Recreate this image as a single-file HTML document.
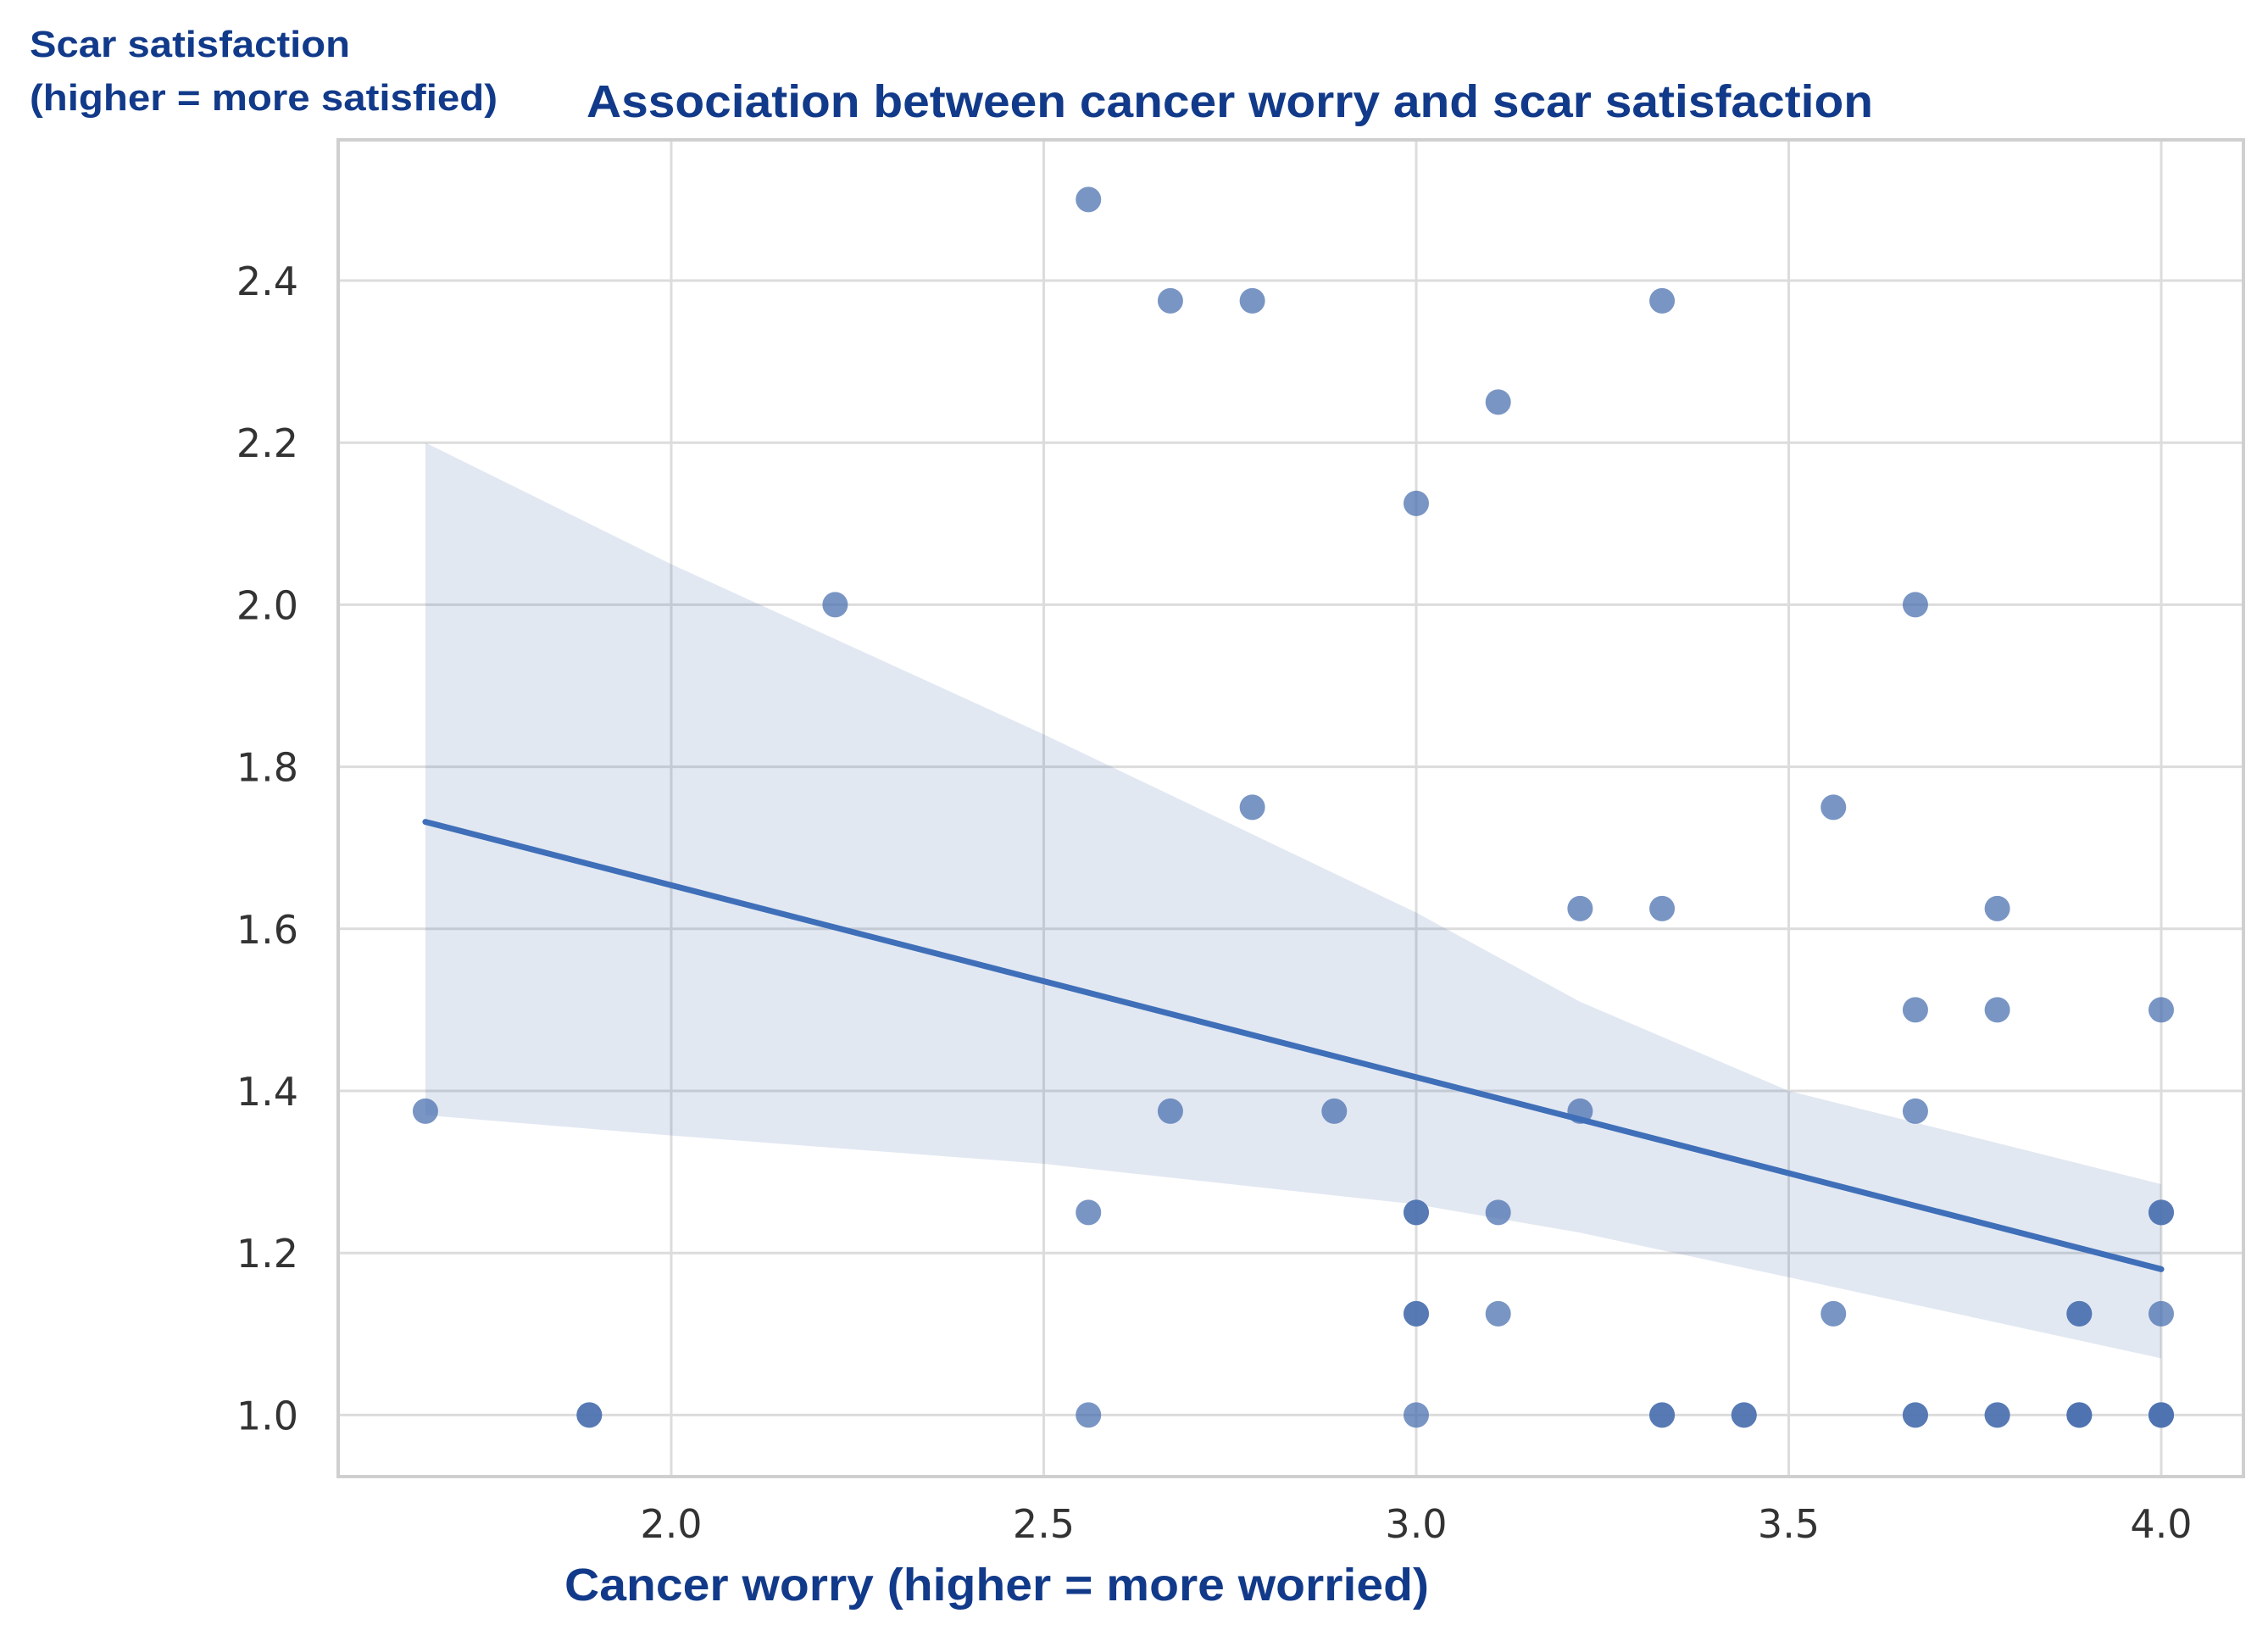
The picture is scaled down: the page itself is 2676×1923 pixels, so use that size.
<!DOCTYPE html>
<html><head><meta charset="utf-8"><style>
html,body{margin:0;padding:0;background:#fff;}
svg{display:block;}
</style></head><body>
<svg id="chart" width="2676" height="1923" viewBox="0 0 2676 1923" xmlns="http://www.w3.org/2000/svg">
<rect x="0" y="0" width="2676" height="1923" fill="#fff"/>
<g id="grid"></g>
<g id="band"></g>
<g id="pts"></g>
<g id="reg"></g>
<rect x="399" y="165" width="2248" height="1577" fill="none" stroke="#cfcfcf" stroke-width="4"/>
<g id="ticks"></g>
<text x="35" y="67" font-family="Liberation Sans, sans-serif" font-weight="bold" font-size="44" fill="#123a8a" textLength="378" lengthAdjust="spacingAndGlyphs">Scar satisfaction</text>
<text x="35" y="130" font-family="Liberation Sans, sans-serif" font-weight="bold" font-size="44" fill="#123a8a" textLength="552" lengthAdjust="spacingAndGlyphs">(higher = more satisfied)</text>
<text x="692" y="138" font-family="Liberation Sans, sans-serif" font-weight="bold" font-size="54" fill="#123a8a" textLength="1518" lengthAdjust="spacingAndGlyphs">Association between cancer worry and scar satisfaction</text>
<text x="666" y="1888" font-family="Liberation Sans, sans-serif" font-weight="bold" font-size="54" fill="#123a8a" textLength="1020" lengthAdjust="spacingAndGlyphs">Cancer worry (higher = more worried)</text>
</svg>
<script>
const xTicks = [2.0, 2.5, 3.0, 3.5, 4.0];
const yTicks = [1.0, 1.2, 1.4, 1.6, 1.8, 2.0, 2.2, 2.4];
const worry = [1.67,1.89,1.89,2.22,2.56,2.56,2.56,2.67,2.67,2.78,2.78,2.89,3.0,3.0,3.0,3.0,3.0,3.0,3.11,3.11,3.11,3.22,3.22,3.33,3.33,3.33,3.33,3.44,3.44,3.56,3.56,3.67,3.67,3.67,3.67,3.67,3.78,3.78,3.78,3.78,3.89,3.89,3.89,3.89,3.89,4.0,4.0,4.0,4.0,4.0,4.0,4.0];
const satisfaction = [1.375,1.0,1.0,2.0,2.5,1.25,1.0,2.375,1.375,2.375,1.75,1.375,2.125,1.25,1.25,1.125,1.125,1.0,2.25,1.25,1.125,1.625,1.375,2.375,1.625,1.0,1.0,1.0,1.0,1.75,1.125,2.0,1.5,1.375,1.0,1.0,1.625,1.5,1.0,1.0,1.125,1.125,1.0,1.0,1.0,1.5,1.25,1.25,1.125,1.0,1.0,1.0];
const bandX = [1.67, 2.0, 2.5, 3.0, 3.22, 3.5, 4.0];
const bandUpper = [2.20, 2.05, 1.84, 1.62, 1.51, 1.40, 1.285];
const bandLower = [1.37, 1.345, 1.31, 1.26, 1.225, 1.17, 1.07];
const regX = [1.67, 4.0];
const regY = [1.732, 1.18];

const NS = 'http://www.w3.org/2000/svg';
function sx(v){ return 792 + (v - 2.0) * 879; }
function sy(v){ return 331 + (2.4 - v) * 956; }
function mk(tag, attrs, parent){ const e = document.createElementNS(NS, tag); for (const k in attrs) e.setAttribute(k, attrs[k]); parent.appendChild(e); return e; }

const grid = document.getElementById('grid');
const ticks = document.getElementById('ticks');
xTicks.forEach(t => {
  const l = mk('line', {x1: sx(t), x2: sx(t), y1: 165, y2: 1742, stroke: '#dcdcdc', 'stroke-width': 3}, grid);
  
  
  const tx = mk('text', {x: sx(t), y: 1814, 'text-anchor': 'middle', 'font-family': 'DejaVu Sans, sans-serif', 'font-size': 46, fill: '#333'}, ticks);
  tx.textContent = t.toFixed(1);
  
  
});
yTicks.forEach(t => {
  const l = mk('line', {x1: 399, x2: 2647, y1: sy(t), y2: sy(t), stroke: '#dcdcdc', 'stroke-width': 3}, grid);
  
  
  const tx = mk('text', {x: 352, y: sy(t) + 17, 'text-anchor': 'end', 'font-family': 'DejaVu Sans, sans-serif', 'font-size': 46, fill: '#333'}, ticks);
  tx.textContent = t.toFixed(1);
  
  
});

let d = '';
bandX.forEach((x, i) => { d += (i ? 'L' : 'M') + sx(x) + ' ' + sy(bandUpper[i]) + ' '; });
for (let i = bandX.length - 1; i >= 0; i--) d += 'L' + sx(bandX[i]) + ' ' + sy(bandLower[i]) + ' ';
d += 'Z';
const bp = mk('path', {d: d, fill: '#4c72b0', 'fill-opacity': 0.16}, document.getElementById('band'));



const pts = document.getElementById('pts');
worry.forEach((x, i) => {
  const c = mk('circle', {cx: sx(x), cy: sy(satisfaction[i]), r: 15, fill: '#4c72b0', 'fill-opacity': 0.75}, pts);
  
  
});

const rl = mk('line', {x1: sx(regX[0]), y1: sy(regY[0]), x2: sx(regX[1]), y2: sy(regY[1]), stroke: '#3f6fb8', 'stroke-width': 7, 'stroke-linecap': 'round'}, document.getElementById('reg'));


</script>
</body></html>
